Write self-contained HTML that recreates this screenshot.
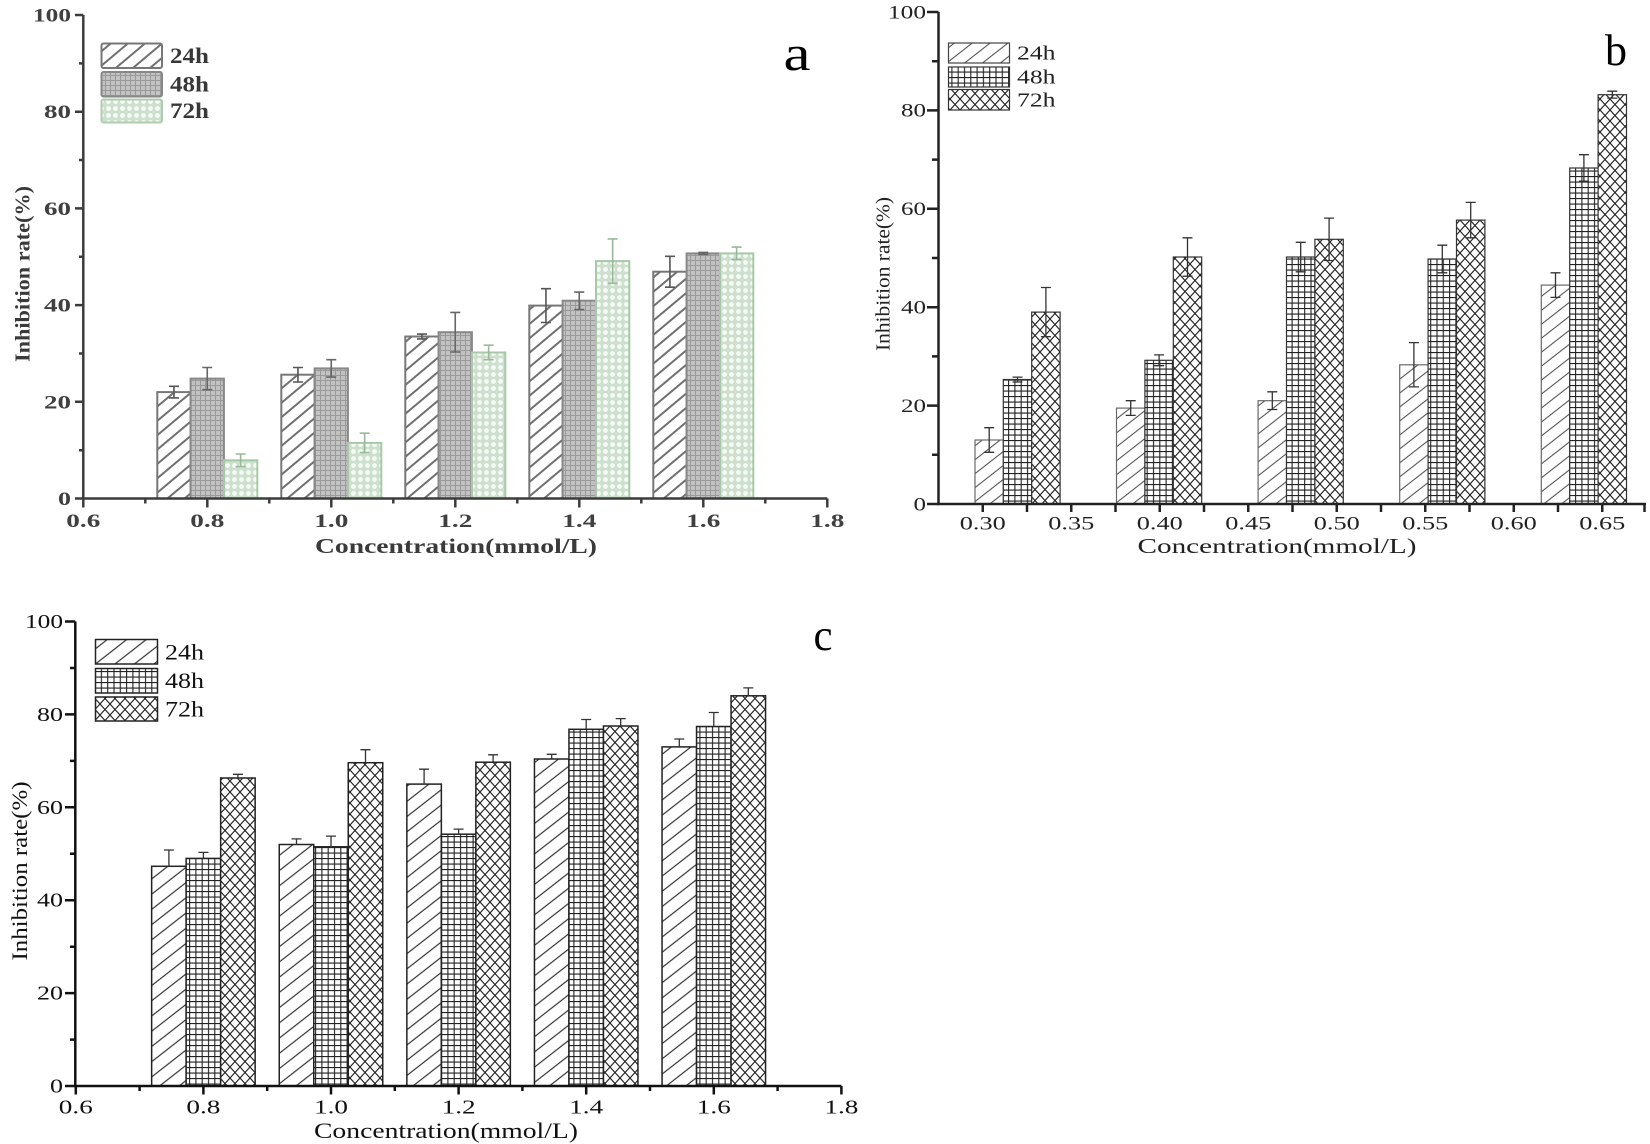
<!DOCTYPE html>
<html><head><meta charset="utf-8"><style>
html,body{margin:0;padding:0;background:#fff;}
svg{display:block;}
</style></head><body>
<svg width="1650" height="1144" viewBox="0 0 1650 1144" xmlns="http://www.w3.org/2000/svg">
<defs>
<pattern id="pa24" width="11" height="11" patternUnits="userSpaceOnUse" patternTransform="rotate(-40)"><rect width="11" height="11" fill="#fff"/><line x1="0" y1="5.5" x2="11" y2="5.5" stroke="#707070" stroke-width="2"/></pattern>
<pattern id="pa48" width="5" height="5" patternUnits="userSpaceOnUse"><rect width="5" height="5" fill="#c2c2c2"/><path d="M0 0.5H5M0.5 0V5" stroke="#9a9a9a" stroke-width="1"/></pattern>
<pattern id="pa72" width="7" height="7" patternUnits="userSpaceOnUse"><rect width="7" height="7" fill="#cddfcd"/><circle cx="3.5" cy="3.5" r="2.4" fill="#f6faf6"/></pattern>
<pattern id="pb24" width="11" height="11" patternUnits="userSpaceOnUse" patternTransform="rotate(-38)"><rect width="11" height="11" fill="#fff"/><line x1="0" y1="5.5" x2="11" y2="5.5" stroke="#555" stroke-width="1.1"/></pattern>
<pattern id="pc24" width="12" height="12" patternUnits="userSpaceOnUse" patternTransform="rotate(-38)"><rect width="12" height="12" fill="#fff"/><line x1="0" y1="6" x2="12" y2="6" stroke="#333" stroke-width="1.2"/></pattern>
<pattern id="p48" width="6.3" height="5.5" patternUnits="userSpaceOnUse"><rect width="6.3" height="5.5" fill="#fff"/><path d="M0 0.6H6.3M0.6 0V5.5" stroke="#222" stroke-width="1.1"/></pattern>
<pattern id="p72" width="10" height="11" patternUnits="userSpaceOnUse"><rect width="10" height="11" fill="#fff"/><path d="M0 0L10 11M10 0L0 11" stroke="#222" stroke-width="1.1"/></pattern>
</defs>
<rect width="1650" height="1144" fill="#fff"/>

<!-- ================= CHART A ================= -->
<g>
<!-- bars -->
<g stroke-width="2">
<rect x="157.3" y="392.1" width="33.3" height="106.4" fill="url(#pa24)" stroke="#777"/>
<rect x="190.6" y="378.6" width="33.3" height="119.9" fill="url(#pa48)" stroke="#888"/>
<rect x="224.0" y="460.3" width="33.3" height="38.2" fill="url(#pa72)" stroke="#a9c8a9"/>
<rect x="281.3" y="374.7" width="33.3" height="123.8" fill="url(#pa24)" stroke="#777"/>
<rect x="314.6" y="368.4" width="33.3" height="130.1" fill="url(#pa48)" stroke="#888"/>
<rect x="348.0" y="442.9" width="33.3" height="55.6" fill="url(#pa72)" stroke="#a9c8a9"/>
<rect x="405.3" y="336.5" width="33.3" height="162.0" fill="url(#pa24)" stroke="#777"/>
<rect x="438.6" y="332.2" width="33.3" height="166.3" fill="url(#pa48)" stroke="#888"/>
<rect x="472.0" y="352.5" width="33.3" height="146.0" fill="url(#pa72)" stroke="#a9c8a9"/>
<rect x="529.3" y="305.6" width="33.3" height="192.9" fill="url(#pa24)" stroke="#777"/>
<rect x="562.6" y="300.7" width="33.3" height="197.8" fill="url(#pa48)" stroke="#888"/>
<rect x="596.0" y="261.1" width="33.3" height="237.4" fill="url(#pa72)" stroke="#a9c8a9"/>
<rect x="653.3" y="271.7" width="33.3" height="226.8" fill="url(#pa24)" stroke="#777"/>
<rect x="686.6" y="253.4" width="33.3" height="245.1" fill="url(#pa48)" stroke="#888"/>
<rect x="720.0" y="253.4" width="33.3" height="245.1" fill="url(#pa72)" stroke="#a9c8a9"/>
</g>
<!-- error bars -->
<g fill="none" stroke-width="1.6">
<path stroke="#555" d="M173.95 386.3V397.9M168.95 386.3H178.95M168.95 397.9H178.95"/>
<path stroke="#666" d="M207.25 367.5V389.7M202.25 367.5H212.25M202.25 389.7H212.25"/>
<path stroke="#9ab89a" d="M240.65 454.0V466.6M235.65 454.0H245.65M235.65 466.6H245.65"/>
<path stroke="#555" d="M297.95 367.5V382.0M292.95 367.5H302.95M292.95 382.0H302.95"/>
<path stroke="#666" d="M331.25 359.7V377.1M326.25 359.7H336.25M326.25 377.1H336.25"/>
<path stroke="#9ab89a" d="M364.65 433.2V452.6M359.65 433.2H369.65M359.65 452.6H369.65"/>
<path stroke="#555" d="M421.95 334.1V338.9M416.95 334.1H426.95M416.95 338.9H426.95"/>
<path stroke="#666" d="M455.25 312.4V352.0M450.25 312.4H460.25M450.25 352.0H460.25"/>
<path stroke="#9ab89a" d="M488.65 345.2V359.7M483.65 345.2H493.65M483.65 359.7H493.65"/>
<path stroke="#555" d="M545.95 288.7V322.5M540.95 288.7H550.95M540.95 322.5H550.95"/>
<path stroke="#666" d="M579.25 292.1V309.5M574.25 292.1H584.25M574.25 309.5H584.25"/>
<path stroke="#9ab89a" d="M612.65 238.9V283.3M607.65 238.9H617.65M607.65 283.3H617.65"/>
<path stroke="#555" d="M669.95 256.3V287.2M664.95 256.3H674.95M664.95 287.2H674.95"/>
<path stroke="#666" d="M703.25 252.4V254.3M698.25 252.4H708.25M698.25 254.3H708.25"/>
<path stroke="#9ab89a" d="M736.65 247.1V259.6M731.65 247.1H741.65M731.65 259.6H741.65"/>
</g>
<!-- axes -->
<g stroke="#3c3c3c" stroke-width="2.5" fill="none">
<path d="M83.3 15V498.5H827.3"/>
<path d="M75 498.5H83.3M75 401.8H83.3M75 305.1H83.3M75 208.4H83.3M75 111.7H83.3M75 15H83.3"/>
<path d="M79 450.2H83.3M79 353.5H83.3M79 256.8H83.3M79 160H83.3M79 63.4H83.3"/>
<path d="M83.3 498.5V507.5M207.3 498.5V507.5M331.3 498.5V507.5M455.3 498.5V507.5M579.3 498.5V507.5M703.3 498.5V507.5M827.3 498.5V507.5"/>
<path d="M145.3 498.5V503.5M269.3 498.5V503.5M393.3 498.5V503.5M517.3 498.5V503.5M641.3 498.5V503.5M765.3 498.5V503.5"/>
</g>
<!-- tick labels -->
<g font-family="'Liberation Serif', serif" font-weight="bold" font-size="18.5" fill="#404040" text-anchor="end">
<text x="71" y="505" textLength="13" lengthAdjust="spacingAndGlyphs">0</text>
<text x="71" y="408.3" textLength="27" lengthAdjust="spacingAndGlyphs">20</text>
<text x="71" y="311.6" textLength="27" lengthAdjust="spacingAndGlyphs">40</text>
<text x="71" y="214.9" textLength="27" lengthAdjust="spacingAndGlyphs">60</text>
<text x="71" y="118.2" textLength="27" lengthAdjust="spacingAndGlyphs">80</text>
<text x="71" y="21.5" textLength="38" lengthAdjust="spacingAndGlyphs">100</text>
</g>
<g font-family="'Liberation Serif', serif" font-weight="bold" font-size="18.5" fill="#404040" text-anchor="middle">
<text x="83.3" y="527" textLength="34" lengthAdjust="spacingAndGlyphs">0.6</text>
<text x="207.3" y="527" textLength="34" lengthAdjust="spacingAndGlyphs">0.8</text>
<text x="331.3" y="527" textLength="34" lengthAdjust="spacingAndGlyphs">1.0</text>
<text x="455.3" y="527" textLength="34" lengthAdjust="spacingAndGlyphs">1.2</text>
<text x="579.3" y="527" textLength="34" lengthAdjust="spacingAndGlyphs">1.4</text>
<text x="703.3" y="527" textLength="34" lengthAdjust="spacingAndGlyphs">1.6</text>
<text x="827.3" y="527" textLength="34" lengthAdjust="spacingAndGlyphs">1.8</text>
</g>
<text x="456" y="553" font-family="'Liberation Serif', serif" font-weight="bold" font-size="21" fill="#3a3a3a" text-anchor="middle" textLength="282" lengthAdjust="spacingAndGlyphs">Concentration(mmol/L)</text>
<text transform="translate(29.5,274) rotate(-90)" x="0" y="0" font-family="'Liberation Serif', serif" font-weight="bold" font-size="21" fill="#3a3a3a" text-anchor="middle" textLength="176" lengthAdjust="spacingAndGlyphs">Inhibition rate(%)</text>
<!-- legend -->
<rect x="101.5" y="43.5" width="60.5" height="24.5" rx="2" fill="url(#pa24)" stroke="#777" stroke-width="2"/>
<rect x="101.5" y="72" width="60.5" height="24.5" rx="2" fill="url(#pa48)" stroke="#888" stroke-width="2"/>
<rect x="101.5" y="99.5" width="60.5" height="23" rx="2" fill="url(#pa72)" stroke="#b0ccb0" stroke-width="2"/>
<g font-family="'Liberation Serif', serif" font-weight="bold" font-size="22" fill="#383838">
<text x="170" y="63" textLength="39" lengthAdjust="spacingAndGlyphs">24h</text>
<text x="170" y="91.5" textLength="39" lengthAdjust="spacingAndGlyphs">48h</text>
<text x="170" y="118" textLength="39" lengthAdjust="spacingAndGlyphs">72h</text>
</g>
<text x="797" y="70" font-family="'Liberation Serif', serif" font-size="50" fill="#000" text-anchor="middle" textLength="27" lengthAdjust="spacingAndGlyphs">a</text>
</g>

<!-- ================= CHART B ================= -->
<g>
<g stroke-width="1.2">
<rect x="975" y="440.0" width="28.4" height="64.0" fill="url(#pb24)" stroke="#6a6a6a"/>
<rect x="1003.3" y="379.5" width="28.4" height="124.5" fill="url(#p48)" stroke="#333"/>
<rect x="1031.7" y="312.1" width="28.4" height="191.9" fill="url(#p72)" stroke="#333"/>
<rect x="1116.5" y="408.1" width="28.4" height="95.9" fill="url(#pb24)" stroke="#6a6a6a"/>
<rect x="1144.9" y="360.3" width="28.4" height="143.7" fill="url(#p48)" stroke="#333"/>
<rect x="1173.3" y="257.0" width="28.4" height="247.0" fill="url(#p72)" stroke="#333"/>
<rect x="1258.1" y="400.7" width="28.4" height="103.3" fill="url(#pb24)" stroke="#6a6a6a"/>
<rect x="1286.5" y="257.0" width="28.4" height="247.0" fill="url(#p48)" stroke="#333"/>
<rect x="1314.9" y="239.3" width="28.4" height="264.7" fill="url(#p72)" stroke="#333"/>
<rect x="1399.7" y="364.8" width="28.4" height="139.2" fill="url(#pb24)" stroke="#6a6a6a"/>
<rect x="1428.1" y="259.0" width="28.4" height="245.0" fill="url(#p48)" stroke="#333"/>
<rect x="1456.5" y="220.1" width="28.4" height="283.9" fill="url(#p72)" stroke="#333"/>
<rect x="1541.3" y="285.1" width="28.4" height="218.9" fill="url(#pb24)" stroke="#6a6a6a"/>
<rect x="1569.7" y="168.0" width="28.4" height="336.0" fill="url(#p48)" stroke="#333"/>
<rect x="1598.1" y="94.7" width="28.4" height="409.3" fill="url(#p72)" stroke="#333"/>
</g>
<g fill="none" stroke="#333" stroke-width="1.3">
<path d="M989.2 427.7V452.3M984.2 427.7H994.2M984.2 452.3H994.2"/>
<path d="M1017.5 377.1V382.0M1012.5 377.1H1022.5M1012.5 382.0H1022.5"/>
<path d="M1045.9 287.5V336.7M1040.9 287.5H1050.9M1040.9 336.7H1050.9"/>
<path d="M1130.7 400.7V415.4M1125.7 400.7H1135.7M1125.7 415.4H1135.7"/>
<path d="M1159.1 354.9V365.7M1154.1 354.9H1164.1M1154.1 365.7H1164.1"/>
<path d="M1187.5 237.8V276.2M1182.5 237.8H1192.5M1182.5 276.2H1192.5"/>
<path d="M1272.3 391.8V409.5M1267.3 391.8H1277.3M1267.3 409.5H1277.3"/>
<path d="M1300.7 242.3V271.8M1295.7 242.3H1305.7M1295.7 271.8H1305.7"/>
<path d="M1329.1 218.1V260.5M1324.1 218.1H1334.1M1324.1 260.5H1334.1"/>
<path d="M1413.9 342.6V386.9M1408.9 342.6H1418.9M1408.9 386.9H1418.9"/>
<path d="M1442.3 245.2V272.8M1437.3 245.2H1447.3M1437.3 272.8H1447.3"/>
<path d="M1470.7 202.4V237.8M1465.7 202.4H1475.7M1465.7 237.8H1475.7"/>
<path d="M1555.5 272.8V297.4M1550.5 272.8H1560.5M1550.5 297.4H1560.5"/>
<path d="M1583.9 154.7V181.2M1578.9 154.7H1588.9M1578.9 181.2H1588.9"/>
<path d="M1612.3 91.2V98.1M1607.3 91.2H1617.3M1607.3 98.1H1617.3"/>
</g>
<g stroke="#222" stroke-width="2.5" fill="none">
<path d="M938.5 12V504H1646"/>
<path d="M927 504H938.5M927 405.6H938.5M927 307.2H938.5M927 208.8H938.5M927 110.4H938.5M927 12H938.5"/>
<path d="M932 454.8H938.5M932 356.4H938.5M932 258H938.5M932 159.6H938.5M932 61.2H938.5"/>
<path d="M982.75 504V512M1027 504V512M1071.25 504V512M1115.5 504V512M1159.75 504V512M1204 504V512M1248.25 504V512M1292.5 504V512M1336.75 504V512M1381 504V512M1425.25 504V512M1469.5 504V512M1513.75 504V512M1558 504V512M1602.25 504V512M1644.5 504V512"/>
</g>
<g font-family="'Liberation Serif', serif" font-size="19" fill="#222" text-anchor="end">
<text x="926" y="510.3" textLength="12.5" lengthAdjust="spacingAndGlyphs">0</text>
<text x="926" y="411.9" textLength="25" lengthAdjust="spacingAndGlyphs">20</text>
<text x="926" y="313.5" textLength="25" lengthAdjust="spacingAndGlyphs">40</text>
<text x="926" y="215.1" textLength="25" lengthAdjust="spacingAndGlyphs">60</text>
<text x="926" y="116.7" textLength="25" lengthAdjust="spacingAndGlyphs">80</text>
<text x="926" y="18.3" textLength="38" lengthAdjust="spacingAndGlyphs">100</text>
</g>
<g font-family="'Liberation Serif', serif" font-size="19" fill="#222" text-anchor="middle">
<text x="982.75" y="529.5" textLength="46" lengthAdjust="spacingAndGlyphs">0.30</text>
<text x="1071.25" y="529.5" textLength="46" lengthAdjust="spacingAndGlyphs">0.35</text>
<text x="1159.75" y="529.5" textLength="46" lengthAdjust="spacingAndGlyphs">0.40</text>
<text x="1248.25" y="529.5" textLength="46" lengthAdjust="spacingAndGlyphs">0.45</text>
<text x="1336.75" y="529.5" textLength="46" lengthAdjust="spacingAndGlyphs">0.50</text>
<text x="1425.25" y="529.5" textLength="46" lengthAdjust="spacingAndGlyphs">0.55</text>
<text x="1513.75" y="529.5" textLength="46" lengthAdjust="spacingAndGlyphs">0.60</text>
<text x="1602.25" y="529.5" textLength="46" lengthAdjust="spacingAndGlyphs">0.65</text>
</g>
<text x="1277" y="553" font-family="'Liberation Serif', serif" font-size="21" fill="#222" text-anchor="middle" textLength="279" lengthAdjust="spacingAndGlyphs">Concentration(mmol/L)</text>
<text transform="translate(889.5,274) rotate(-90)" x="0" y="0" font-family="'Liberation Serif', serif" font-size="20" fill="#222" text-anchor="middle" textLength="154" lengthAdjust="spacingAndGlyphs">Inhibition rate(%)</text>
<rect x="948.5" y="43" width="61" height="20" fill="url(#pb24)" stroke="#444" stroke-width="1.2"/>
<rect x="948.5" y="67" width="61" height="20" fill="url(#p48)" stroke="#333" stroke-width="1.2"/>
<rect x="948.5" y="89.5" width="61" height="20.5" fill="url(#p72)" stroke="#333" stroke-width="1.2"/>
<g font-family="'Liberation Serif', serif" font-size="20" fill="#222">
<text x="1017" y="59.5" textLength="38.5" lengthAdjust="spacingAndGlyphs">24h</text>
<text x="1017" y="83.5" textLength="38.5" lengthAdjust="spacingAndGlyphs">48h</text>
<text x="1017" y="106.5" textLength="38.5" lengthAdjust="spacingAndGlyphs">72h</text>
</g>
<text x="1616" y="65" font-family="'Liberation Serif', serif" font-size="44" fill="#000" text-anchor="middle" textLength="22" lengthAdjust="spacingAndGlyphs">b</text>
</g>

<!-- ================= CHART C ================= -->
<g>
<g stroke-width="1.5">
<rect x="151.65" y="866.3" width="34.5" height="219.7" fill="url(#pc24)" stroke="#222"/>
<rect x="186.15" y="858.4" width="34.5" height="227.6" fill="url(#p48)" stroke="#222"/>
<rect x="220.65" y="778.0" width="34.5" height="308.0" fill="url(#p72)" stroke="#222"/>
<rect x="279.25" y="844.5" width="34.5" height="241.5" fill="url(#pc24)" stroke="#222"/>
<rect x="313.75" y="846.8" width="34.5" height="239.2" fill="url(#p48)" stroke="#222"/>
<rect x="348.25" y="762.7" width="34.5" height="323.3" fill="url(#p72)" stroke="#222"/>
<rect x="406.85" y="784.1" width="34.5" height="301.9" fill="url(#pc24)" stroke="#222"/>
<rect x="441.35" y="834.2" width="34.5" height="251.8" fill="url(#p48)" stroke="#222"/>
<rect x="475.85" y="762.2" width="34.5" height="323.8" fill="url(#p72)" stroke="#222"/>
<rect x="534.45" y="759.0" width="34.5" height="327.0" fill="url(#pc24)" stroke="#222"/>
<rect x="568.95" y="729.3" width="34.5" height="356.7" fill="url(#p48)" stroke="#222"/>
<rect x="603.45" y="726.0" width="34.5" height="360.0" fill="url(#p72)" stroke="#222"/>
<rect x="662.05" y="746.9" width="34.5" height="339.1" fill="url(#pc24)" stroke="#222"/>
<rect x="696.55" y="726.5" width="34.5" height="359.5" fill="url(#p48)" stroke="#222"/>
<rect x="731.05" y="695.8" width="34.5" height="390.2" fill="url(#p72)" stroke="#222"/>
</g>
<g fill="none" stroke="#333" stroke-width="1.3">
<path d="M168.9 850.0V866.3M163.9 850.0H173.9"/>
<path d="M203.4 852.4V858.4M198.4 852.4H208.4"/>
<path d="M237.9 774.3V778.0M232.9 774.3H242.9"/>
<path d="M296.5 838.9V844.5M291.5 838.9H301.5"/>
<path d="M331.0 836.1V846.8M326.0 836.1H336.0"/>
<path d="M365.5 749.7V762.7M360.5 749.7H370.5"/>
<path d="M424.1 769.2V784.1M419.1 769.2H429.1"/>
<path d="M458.6 829.1V834.2M453.6 829.1H463.6"/>
<path d="M493.1 754.8V762.2M488.1 754.8H498.1"/>
<path d="M551.7 754.3V759.0M546.7 754.3H556.7"/>
<path d="M586.2 719.5V729.3M581.2 719.5H591.2"/>
<path d="M620.7 718.6V726.0M615.7 718.6H625.7"/>
<path d="M679.3 739.0V746.9M674.3 739.0H684.3"/>
<path d="M713.8 712.5V726.5M708.8 712.5H718.8"/>
<path d="M748.3 687.9V695.8M743.3 687.9H753.3"/>
</g>
<g stroke="#111" stroke-width="2.5" fill="none">
<path d="M75.3 621.5V1086H841.4"/>
<path d="M65 1086H75.3M65 993.1H75.3M65 900.2H75.3M65 807.3H75.3M65 714.4H75.3M65 621.5H75.3"/>
<path d="M70 1039.6H75.3M70 946.7H75.3M70 853.8H75.3M70 760.9H75.3M70 668H75.3"/>
<path d="M75.8 1086V1094.5M203.4 1086V1094.5M331 1086V1094.5M458.6 1086V1094.5M586.2 1086V1094.5M713.8 1086V1094.5M841.4 1086V1094.5"/>
<path d="M139.6 1086V1091M267.2 1086V1091M394.8 1086V1091M522.4 1086V1091M650 1086V1091M777.6 1086V1091"/>
</g>
<g font-family="'Liberation Serif', serif" font-size="20" fill="#111" text-anchor="end">
<text x="63" y="1092.5" textLength="13" lengthAdjust="spacingAndGlyphs">0</text>
<text x="63" y="999.6" textLength="26" lengthAdjust="spacingAndGlyphs">20</text>
<text x="63" y="906.7" textLength="26" lengthAdjust="spacingAndGlyphs">40</text>
<text x="63" y="813.8" textLength="26" lengthAdjust="spacingAndGlyphs">60</text>
<text x="63" y="720.9" textLength="26" lengthAdjust="spacingAndGlyphs">80</text>
<text x="63" y="628" textLength="38" lengthAdjust="spacingAndGlyphs">100</text>
</g>
<g font-family="'Liberation Serif', serif" font-size="20" fill="#111" text-anchor="middle">
<text x="75.8" y="1113.5" textLength="34" lengthAdjust="spacingAndGlyphs">0.6</text>
<text x="203.4" y="1113.5" textLength="34" lengthAdjust="spacingAndGlyphs">0.8</text>
<text x="331" y="1113.5" textLength="34" lengthAdjust="spacingAndGlyphs">1.0</text>
<text x="458.6" y="1113.5" textLength="34" lengthAdjust="spacingAndGlyphs">1.2</text>
<text x="586.2" y="1113.5" textLength="34" lengthAdjust="spacingAndGlyphs">1.4</text>
<text x="713.8" y="1113.5" textLength="34" lengthAdjust="spacingAndGlyphs">1.6</text>
<text x="841.4" y="1113.5" textLength="34" lengthAdjust="spacingAndGlyphs">1.8</text>
</g>
<text x="446" y="1138" font-family="'Liberation Serif', serif" font-size="22" fill="#111" text-anchor="middle" textLength="264" lengthAdjust="spacingAndGlyphs">Concentration(mmol/L)</text>
<text transform="translate(27,871) rotate(-90)" x="0" y="0" font-family="'Liberation Serif', serif" font-size="22" fill="#111" text-anchor="middle" textLength="179" lengthAdjust="spacingAndGlyphs">Inhibition rate(%)</text>
<rect x="95.5" y="639.5" width="62" height="24.5" fill="url(#pc24)" stroke="#222" stroke-width="1.5"/>
<rect x="95.5" y="668.5" width="62" height="24.5" fill="url(#p48)" stroke="#222" stroke-width="1.5"/>
<rect x="95.5" y="697" width="62" height="24" fill="url(#p72)" stroke="#222" stroke-width="1.5"/>
<g font-family="'Liberation Serif', serif" font-size="22" fill="#111">
<text x="165" y="659.5" textLength="39" lengthAdjust="spacingAndGlyphs">24h</text>
<text x="165" y="688" textLength="39" lengthAdjust="spacingAndGlyphs">48h</text>
<text x="165" y="716.5" textLength="39" lengthAdjust="spacingAndGlyphs">72h</text>
</g>
<text x="823" y="650" font-family="'Liberation Serif', serif" font-size="44" fill="#000" text-anchor="middle" textLength="19" lengthAdjust="spacingAndGlyphs">c</text>
</g>
</svg>
</body></html>
